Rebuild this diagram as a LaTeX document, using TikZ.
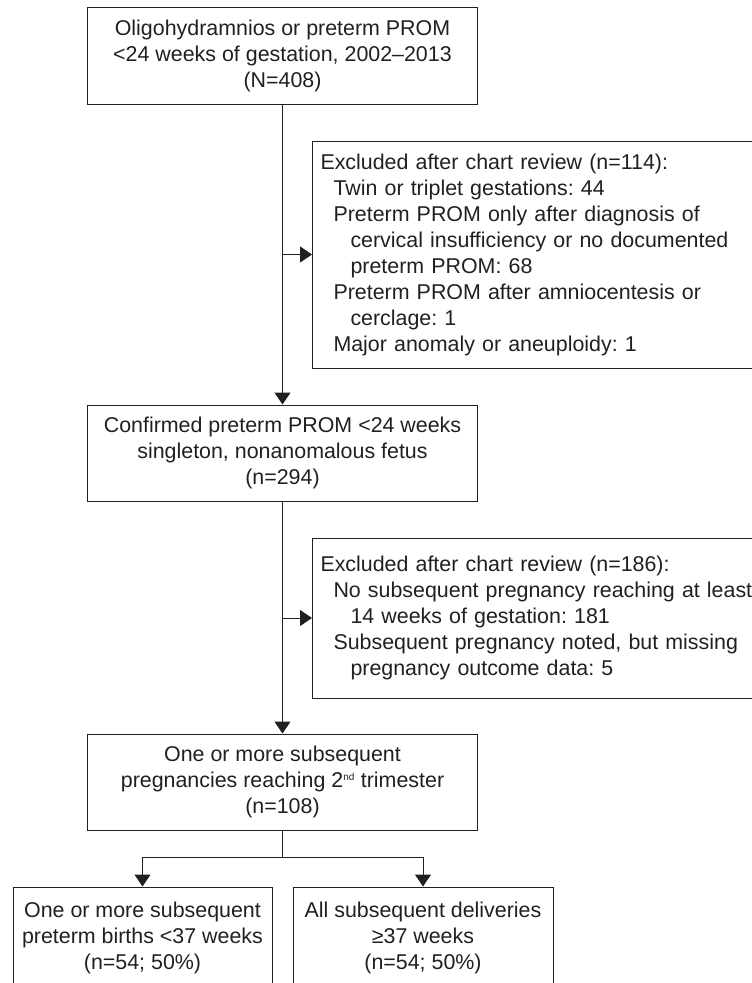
\documentclass[tikz,border=0pt]{standalone}
\usepackage{fontspec}
\setmainfont{Liberation Sans}
\usetikzlibrary{arrows.meta}
\definecolor{ink}{RGB}{35,31,32}

\begin{document}
\begin{tikzpicture}[x=1pt,y=-1pt,
  box/.style={draw=ink,line width=1pt,text=ink,align=center,inner sep=0pt,
    font=\fontsize{21.4}{26}\selectfont\frenchspacing},
  exclbox/.style={box,align=left,anchor=west,text width=462pt,inner xsep=8pt},
  arr/.style={draw=ink,line width=1pt,-{Triangle[length=12pt,width=16pt]}}]
  \useasboundingbox (0,0) rectangle (752,983);
  \clip (0,0) rectangle (752,983);

  % main column
  \node[box,minimum width=390pt,minimum height=97pt] (start) at (282.5,55.5)
    {Oligohydramnios or preterm PROM\\<24 weeks of gestation, 2002--2013\\(N=408)};
  \node[box,minimum width=390pt,minimum height=96pt] (confirmed) at (282.5,453)
    {Confirmed preterm PROM <24 weeks\\singleton, nonanomalous fetus\\(n=294)};
  \node[box,minimum width=390pt,minimum height=96pt] (subseq) at (282.5,782)
    {One or more subsequent\\pregnancies reaching 2\textsuperscript{\fontsize{10}{10}\selectfont nd} trimester\\(n=108)};

  % exclusions
  \node[exclbox,minimum height=227pt] (excl1) at (312,254.5)
    {Excluded after chart review (n=114):\\
     \hspace*{13pt}Twin or triplet gestations: 44\\
     \hspace*{13pt}Preterm PROM only after diagnosis of\\
     \hspace*{30pt}cervical insufficiency or no documented\\
     \hspace*{30pt}preterm PROM: 68\\
     \hspace*{13pt}Preterm PROM after amniocentesis or\\
     \hspace*{30pt}cerclage: 1\\
     \hspace*{13pt}Major anomaly or aneuploidy: 1};
  \node[exclbox,minimum height=160pt] (excl2) at (312,618)
    {Excluded after chart review (n=186):\\
     \hspace*{13pt}No subsequent pregnancy reaching at least\\
     \hspace*{30pt}14 weeks of gestation: 181\\
     \hspace*{13pt}Subsequent pregnancy noted, but missing\\
     \hspace*{30pt}pregnancy outcome data: 5};

  % outcomes
  \node[box,minimum width=259pt,minimum height=102pt] (preterm) at (142.5,938)
    {One or more subsequent\\preterm births <37 weeks\\(n=54; 50\%)};
  \node[box,minimum width=260pt,minimum height=102pt] (term) at (423,938)
    {All subsequent deliveries\\≥37 weeks\\(n=54; 50\%)};

  \draw[arr] (start) -- (confirmed);
  \draw[arr] (start.south |- excl1.west) -- (excl1.west);
  \draw[arr] (confirmed) -- (subseq);
  \draw[arr] (confirmed.south |- excl2.west) -- (excl2.west);
  \draw[arr] (subseq.south) -- ++(0,27) -| (preterm.north);
  \draw[arr] (subseq.south) -- ++(0,27) -| (term.north);
\end{tikzpicture}
\end{document}
